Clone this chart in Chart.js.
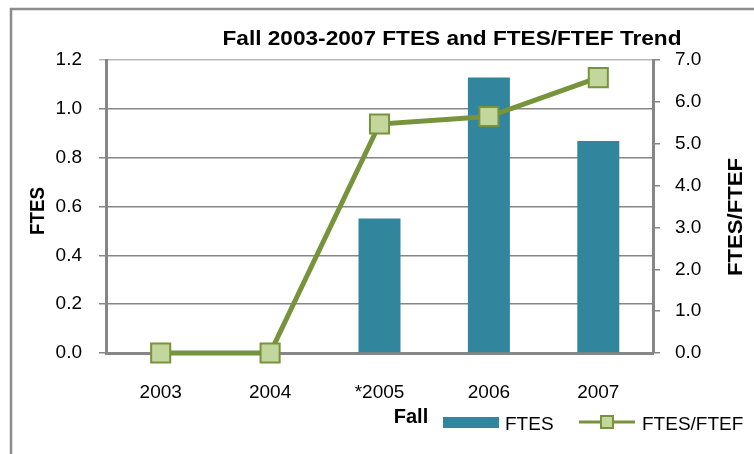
<!DOCTYPE html>
<html><head><meta charset="utf-8">
<script src="https://cdn.jsdelivr.net/npm/chart.js@4.4.1/dist/chart.umd.min.js"></script>
<style>html,body{margin:0;padding:0;background:#fff}#wrap{width:754px;height:454px;position:relative}</style>
</head><body><div id="wrap"><canvas id="c" width="754" height="454"></canvas></div>
<script>
const categories = ['2003', '2004', '*2005', '2006', '2007'];
const ftes = [0, 0, 0.551, 1.128, 0.868];
const ftesPerFtef = [0, 0, 5.47, 5.65, 6.58];
const seriesNames = ['FTES', 'FTES/FTEF'];
const chartTitle = 'Fall 2003-2007 FTES and FTES/FTEF Trend';
const xTitle = 'Fall';
const yLeftTitle = 'FTES';
const yRightTitle = 'FTES/FTEF';

const FONT = '"Liberation Sans", Arial, sans-serif';
const GRID = '#868686';
const BAR = '#31859C';
const LINE = '#77933C';
const MARK = '#C3D69B';

function drawScaledText(ctx, text, x, y, font, targetW, rot) {
  ctx.save();
  ctx.font = font;
  ctx.fillStyle = '#000';
  ctx.textAlign = 'center';
  ctx.textBaseline = 'middle';
  const w = ctx.measureText(text).width;
  const sx = targetW ? targetW / w : 1;
  ctx.translate(x, y);
  if (rot) ctx.rotate(rot);
  ctx.scale(sx, 1);
  ctx.fillText(text, 0, 0);
  ctx.restore();
}

const decor = {
  id: 'decor',
  beforeDraw(chart) {
    const ctx = chart.ctx;
    ctx.save();
    ctx.fillStyle = '#fff';
    ctx.fillRect(0, 0, chart.width, chart.height);
    ctx.strokeStyle = '#8c8c8c';
    ctx.lineWidth = 2.5;
    ctx.beginPath();
    ctx.moveTo(11, chart.height + 5);
    ctx.lineTo(11, 9);
    ctx.lineTo(chart.width + 5, 9);
    ctx.stroke();
    ctx.restore();
  },
  afterDraw(chart) {
    const ctx = chart.ctx;
    // title
    ctx.save();
    ctx.font = 'bold 21px ' + FONT;
    ctx.fillStyle = '#000';
    ctx.textAlign = 'center';
    ctx.textBaseline = 'alphabetic';
    const tw = ctx.measureText(chartTitle).width;
    ctx.translate(452, 45);
    ctx.scale(459 / tw, 1);
    ctx.fillText(chartTitle, 0, 0);
    ctx.restore();
    // axis titles
    drawScaledText(ctx, yLeftTitle, 38, 211, 'bold 20px ' + FONT, 48, -Math.PI / 2);
    drawScaledText(ctx, yRightTitle, 736, 217, 'bold 20px ' + FONT, 118, -Math.PI / 2);
    drawScaledText(ctx, xTitle, 411, 417, 'bold 20px ' + FONT, 0, 0);
    // legend
    const ds = chart.data.datasets;
    ctx.save();
    ctx.fillStyle = BAR;
    ctx.fillRect(443, 417, 56, 11);
    ctx.font = '19px ' + FONT;
    ctx.fillStyle = '#000';
    ctx.textAlign = 'left';
    ctx.textBaseline = 'middle';
    ctx.fillText(ds[1].label, 505, 425);
    ctx.strokeStyle = LINE;
    ctx.lineWidth = 3;
    ctx.beginPath();
    ctx.moveTo(579, 422);
    ctx.lineTo(635, 422);
    ctx.stroke();
    ctx.fillStyle = MARK;
    ctx.lineWidth = 2;
    ctx.fillRect(601, 416, 12, 12);
    ctx.strokeRect(601, 416, 12, 12);
    ctx.fillStyle = '#000';
    ctx.fillText(ds[0].label, 642, 425);
    ctx.restore();
  }
};

new Chart(document.getElementById('c'), {
  type: 'bar',
  data: {
    labels: categories,
    datasets: [
      {
        type: 'line',
        label: seriesNames[1],
        data: ftesPerFtef,
        yAxisID: 'y1',
        borderColor: LINE,
        borderWidth: 5,
        pointStyle: 'rect',
        pointRadius: 13.5,
        pointBackgroundColor: MARK,
        pointBorderColor: LINE,
        pointBorderWidth: 2,
        tension: 0,
        clip: false,
        order: 0
      },
      {
        type: 'bar',
        label: seriesNames[0],
        data: ftes,
        yAxisID: 'y',
        backgroundColor: BAR,
        barPercentage: 0.384,
        categoryPercentage: 1,
        order: 1
      }
    ]
  },
  options: {
    responsive: false,
    animation: false,
    devicePixelRatio: 1,
    layout: { padding: { left: 0, right: 0, top: 60, bottom: 0 } },
    plugins: { legend: { display: false }, title: { display: false }, tooltip: { enabled: false } },
    scales: {
      x: {
        offset: true,
        grid: { display: false, drawTicks: false },
        border: { display: true, color: GRID, width: 3 },
        ticks: { color: '#000', font: { family: FONT, size: 19 }, padding: 28, maxRotation: 0 },
        afterFit(s) { s.height = 101; }
      },
      y: {
        position: 'left',
        min: 0, max: 1.2,
        grid: {
          color: (c) => (c.tick && c.tick.value >= 1.2 ? '#b8b8b8' : GRID),
          lineWidth: 1.5,
          drawTicks: true,
          tickLength: 7
        },
        border: { display: true, color: GRID, width: 3 },
        ticks: {
          stepSize: 0.2,
          color: '#000',
          padding: 17,
          font: { family: FONT, size: 19 },
          callback: (v) => Number(v).toFixed(1)
        },
        afterFit(s) { s.width = 106; }
      },
      y1: {
        position: 'right',
        min: 0, max: 7,
        grid: { drawOnChartArea: false, color: GRID, lineWidth: 1.5, drawTicks: true, tickLength: 7 },
        border: { display: true, color: GRID, width: 3 },
        ticks: {
          stepSize: 1,
          color: '#000',
          padding: 15,
          font: { family: FONT, size: 19 },
          callback: (v) => Number(v).toFixed(1)
        },
        afterFit(s) { s.width = 101; }
      }
    }
  },
  plugins: [decor]
});
</script>
</body></html>
